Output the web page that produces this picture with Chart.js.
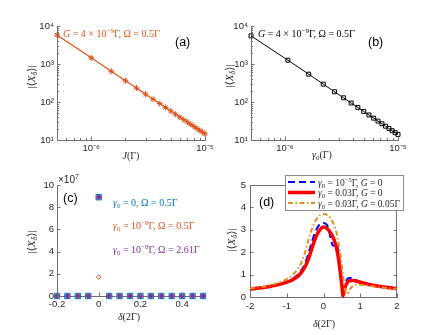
<!DOCTYPE html>
<html>
<head>
<meta charset="utf-8">
<script src="https://cdn.jsdelivr.net/npm/chart.js@4.4.1/dist/chart.umd.min.js"></script>
<style>
  html, body { margin: 0; padding: 0; background: #fff; }
  #wrap { position: relative; width: 440px; height: 335px; }
  #wrap canvas { position: absolute; left: 0; top: 0; }
</style>
</head>
<body>
<div id="wrap">
  <canvas id="chartA" width="440" height="335"></canvas>
  <canvas id="chartB" width="440" height="335"></canvas>
  <canvas id="chartC" width="440" height="335"></canvas>
  <canvas id="chartD" width="440" height="335"></canvas>
</div>
<script>
// (a) |<X_delta>| vs J, G = 4e-9, Omega = 0.5
const jA = [0.5e-6, 1e-6, 1.5e-6, 2e-6, 2.5e-6, 3e-6, 3.5e-6, 4e-6, 4.5e-6, 5e-6,
            5.5e-6, 6e-6, 6.5e-6, 7e-6, 7.5e-6, 8e-6, 8.5e-6, 9e-6, 9.5e-6, 1e-5];
const xdA = [5800, 1450, 645, 363, 232, 161, 118, 91, 72, 58,
             48, 40, 34.3, 29.6, 25.8, 22.7, 20.1, 17.9, 16.1, 14.5];

// (b) |<X_delta>| vs gamma0
const gB = [0.5e-6, 1.06e-6, 1.62e-6, 2.18e-6, 2.74e-6, 3.29e-6, 3.85e-6, 4.41e-6, 4.97e-6,
            5.53e-6, 6.09e-6, 6.65e-6, 7.21e-6, 7.76e-6, 8.32e-6, 8.88e-6, 9.44e-6, 1e-5];
const xdB = [5500, 1260, 540, 295, 186, 129, 94, 72, 56.5,
             45.6, 37.6, 31.5, 26.8, 23.1, 20.1, 17.6, 15.6, 14.0];

// (c) |<X_delta>| vs delta, three parameter sets
const deltaC = [-0.2, -0.15, -0.1, -0.05, 0, 0.05, 0.1, 0.15, 0.2, 0.25, 0.3, 0.35, 0.4, 0.45, 0.5];
const xdC1 = [0, 0, 0, 0, 8.9e7, 0, 0, 0, 0, 0, 0, 0, 0, 0, 0];
const xdC2 = [0, 0, 0, 0, 1.7e7, 0, 0, 0, 0, 0, 0, 0, 0, 0, 0];
const xdC3 = [0, 0, 0, 0, 8.9e7, 0, 0, 0, 0, 0, 0, 0, 0, 0, 0];

// (d) |<X_delta>| vs delta, three curves
const deltaD = [-2, -1.75, -1.5, -1.25, -1, -0.85, -0.7, -0.6, -0.5, -0.4, -0.3, -0.2, -0.1, 0,
                0.1, 0.2, 0.25, 0.3, 0.35, 0.4, 0.45, 0.5, 0.53, 0.56, 0.6, 0.65, 0.7, 0.8, 0.9,
                1, 1.25, 1.5, 1.75, 2];
const xdBlue = [0.36, 0.40, 0.46, 0.55, 0.68, 0.80, 1.0, 1.2, 1.5, 2.0, 2.55, 3.0, 3.25, 3.3,
                3.2, 2.6, 2.3, 2.3, 2.4, 2.1, 1.4, 0.6, 0.05, 0.35, 0.65, 0.8, 0.85, 0.83, 0.75,
                0.68, 0.56, 0.48, 0.42, 0.37];
const xdRed = [0.36, 0.40, 0.46, 0.54, 0.66, 0.76, 0.92, 1.1, 1.35, 1.75, 2.25, 2.7, 3.0, 3.12,
               3.05, 2.85, 2.7, 2.5, 2.2, 1.8, 1.2, 0.5, 0.05, 0.25, 0.5, 0.65, 0.72, 0.74, 0.7,
               0.66, 0.56, 0.48, 0.42, 0.37];
const xdOrange = [0.38, 0.43, 0.5, 0.62, 0.8, 0.98, 1.25, 1.55, 2.0, 2.6, 3.1, 3.45, 3.65, 3.7,
                  3.67, 3.5, 3.35, 3.15, 2.9, 2.5, 2.0, 1.4, 1.0, 0.6, 0.25, 0.15, 0.3, 0.5, 0.55,
                  0.55, 0.5, 0.45, 0.4, 0.36];

// tick values
const cTicksX = [-0.2, 0, 0.2, 0.4];
const cTicksY = [0, 2e7, 4e7, 6e7, 8e7, 10e7];
const dTicksX = [-2, -1, 0, 1, 2];
const dTicksY = [0, 1, 2, 3, 4, 5];

const SERIF = '"Liberation Serif", "DejaVu Serif", serif';
const SANS = '"Liberation Sans", Arial, sans-serif';
const AXIS = '#707070';
const TXT = '#262626';
const YW = 40, XH = 22; // box sizes given to the axes

const SUP = { '-': '⁻', '0': '⁰', '1': '¹', '2': '²', '3': '³', '4': '⁴', '5': '⁵', '6': '⁶', '7': '⁷', '8': '⁸', '9': '⁹' };
function pow10Label(v) {
  const e = Math.log10(v);
  if (Math.abs(e - Math.round(e)) > 1e-6) return '';
  return '10' + String(Math.round(e)).split('').map(c => SUP[c]).join('');
}

// minor ticks 1..9 x 10^n between lo and hi
function logTicks(lo, hi) {
  const out = [];
  for (let e = Math.floor(Math.log10(lo)); e <= Math.ceil(Math.log10(hi)); e++) {
    for (let m = 1; m <= 9; m++) {
      const v = m * Math.pow(10, e);
      if (v >= lo * 0.999 && v <= hi * 1.001) out.push(v);
    }
  }
  return out;
}

function axis(type, pos, min, max, tickVals, fmt, pad) {
  return {
    type, position: pos, min, max,
    afterFit(s) { if (s.isHorizontal()) s.height = XH; else s.width = YW; },
    afterBuildTicks(s) { s.ticks = tickVals.map(v => ({ value: v })); },
    ticks: {
      callback: fmt, autoSkip: false, maxRotation: 0, minRotation: 0, padding: pad,
      color: TXT, font: { family: SANS, size: 9.5 }
    },
    grid: { drawOnChartArea: false, drawTicks: false },
    border: { color: AXIS, width: 1 }
  };
}

// text with italic / sub / sup parts
function rich(ctx, t) {
  const size = t.size || 10, fam = t.family || SERIF;
  const fontFor = f => (f.includes('i') ? 'italic ' : '') +
    ((f.includes('b') || f.includes('p')) ? size * 0.7 : size) + 'px ' + fam;
  let w = 0;
  const widths = t.parts.map(([s, f = '']) => { ctx.font = fontFor(f); const m = ctx.measureText(s).width; w += m; return m; });
  ctx.save();
  ctx.translate(t.x, t.y);
  if (t.rot) ctx.rotate(t.rot);
  ctx.fillStyle = t.color || TXT;
  ctx.textAlign = 'left';
  ctx.textBaseline = 'alphabetic';
  let x = t.align === 'center' ? -w / 2 : 0;
  t.parts.forEach(([s, f = ''], i) => {
    ctx.font = fontFor(f);
    const dy = f.includes('p') ? -size * 0.42 : f.includes('b') ? size * 0.22 : 0;
    ctx.fillText(s, x, dy);
    x += widths[i];
  });
  ctx.restore();
}

function makeDeco(spec) {
  return {
    id: 'deco',
    afterDraw(chart) {
      const ctx = chart.ctx, a = chart.chartArea;
      ctx.save();
      ctx.strokeStyle = AXIS;
      ctx.lineWidth = 1;
      ctx.beginPath();
      if (spec.box) {
        ctx.moveTo(a.left, a.top + 0.5); ctx.lineTo(a.right, a.top + 0.5);
        ctx.moveTo(a.right - 0.5, a.top); ctx.lineTo(a.right - 0.5, a.bottom);
      }
      // inward tick marks
      const sx = chart.scales.x, sy = chart.scales.y;
      sx.ticks.forEach(t => {
        const px = Math.round(sx.getPixelForValue(t.value)) + 0.5;
        const len = t.label === '' ? 2 : 3.5;
        ctx.moveTo(px, a.bottom); ctx.lineTo(px, a.bottom - len);
        if (spec.box) { ctx.moveTo(px, a.top); ctx.lineTo(px, a.top + len); }
      });
      sy.ticks.forEach(t => {
        const py = Math.round(sy.getPixelForValue(t.value)) + 0.5;
        const len = t.label === '' ? 2 : 3.5;
        ctx.moveTo(a.left, py); ctx.lineTo(a.left + len, py);
        if (spec.box) { ctx.moveTo(a.right, py); ctx.lineTo(a.right - len, py); }
      });
      ctx.stroke();

      if (spec.legend) {
        const L = spec.legend;
        ctx.fillStyle = '#fff';
        ctx.fillRect(L.x, L.y, L.w, L.h);
        ctx.strokeStyle = '#8a8a8a';
        ctx.strokeRect(L.x + 0.5, L.y + 0.5, L.w, L.h);
        L.rows.forEach(r => {
          ctx.save();
          ctx.strokeStyle = r.color;
          ctx.lineWidth = r.width;
          ctx.setLineDash(r.dash);
          ctx.beginPath();
          ctx.moveTo(L.x + 3, r.y); ctx.lineTo(L.x + 30, r.y);
          ctx.stroke();
          ctx.restore();
          rich(ctx, { parts: r.parts, x: L.x + 33, y: r.y + 3.5, size: 9.5 });
        });
      }
      (spec.texts || []).forEach(t => rich(ctx, t));
      ctx.restore();
    }
  };
}

function panel(id, frame, scales, datasets, deco) {
  return new Chart(document.getElementById(id), {
    type: 'scatter',
    data: { datasets },
    options: {
      responsive: false,
      animation: false,
      events: [],
      layout: { padding: { left: frame[0] - YW, top: frame[1], right: 440 - frame[2], bottom: 335 - frame[3] - XH } },
      scales,
      plugins: { legend: { display: false }, tooltip: { enabled: false } }
    },
    plugins: [makeDeco(deco)]
  });
}

const yTitle = [['|⟨'], ['X', 'i'], ['δ', 'ib'], ['⟩|']];

// (a)
panel('chartA', [57, 26, 205, 140], {
  x: axis('logarithmic', 'bottom', 5e-7, 1e-5, logTicks(5e-7, 1e-5), pow10Label, 3),
  y: axis('logarithmic', 'left', 10, 10000, logTicks(10, 10000), pow10Label, 3)
}, [{
  data: jA.map((x, i) => ({ x, y: xdA[i] })),
  showLine: true, clip: false,
  borderColor: '#D95319', borderWidth: 1.2,
  pointStyle: 'star', pointRadius: 3, pointBorderColor: '#D95319', pointBorderWidth: 1,
  pointBackgroundColor: '#D95319'
}], {
  texts: [
    { parts: [['G', 'i'], [' = 4 × 10'], ['−9', 'p'], ['Γ, Ω = 0.5Γ']], x: 63, y: 37, color: '#D95319' },
    { parts: [['(a)']], x: 175, y: 46, size: 12.5, family: SANS, color: '#000' },
    { parts: [['J', 'i'], ['(Γ)']], x: 131, y: 159, align: 'center' },
    { parts: yTitle, x: 35, y: 77, align: 'center', rot: -Math.PI / 2, size: 11 }
  ]
});

// (b)
panel('chartB', [251, 26, 398, 140], {
  x: axis('logarithmic', 'bottom', 5e-7, 1e-5, logTicks(5e-7, 1e-5), pow10Label, 3),
  y: axis('logarithmic', 'left', 10, 10000, logTicks(10, 10000), pow10Label, 3)
}, [{
  data: gB.map((x, i) => ({ x, y: xdB[i] })),
  showLine: true, clip: false,
  borderColor: '#000', borderWidth: 1,
  pointStyle: 'rect', pointRadius: 2.8, pointBorderColor: '#000', pointBorderWidth: 1,
  pointBackgroundColor: 'rgba(255,255,255,0)'
}], {
  texts: [
    { parts: [['G', 'i'], [' = 4 × 10'], ['−9', 'p'], ['Γ, Ω = 0.5Γ']], x: 258, y: 37, color: '#000' },
    { parts: [['(b)']], x: 368, y: 46, size: 12.5, family: SANS, color: '#000' },
    { parts: [['γ', 'i'], ['0', 'b'], ['(Γ)']], x: 322, y: 158, align: 'center' },
    { parts: yTitle, x: 233, y: 76, align: 'center', rot: -Math.PI / 2, size: 11 }
  ]
});

// (c)
panel('chartC', [57, 185, 203, 296], {
  x: axis('linear', 'bottom', -0.2, 0.5, cTicksX, v => String(v), 3),
  y: axis('linear', 'left', 0, 10e7, cTicksY, v => String(Math.round(v / 1e7)), 3)
}, [{
  data: deltaC.map((x, i) => ({ x, y: xdC1[i] })),
  order: 2, clip: false,
  pointStyle: 'rect', pointRadius: 3.8, pointBorderColor: '#0072BD', pointBorderWidth: 1,
  pointBackgroundColor: '#9DCBEE'
}, {
  data: deltaC.map((x, i) => ({ x, y: xdC2[i] })),
  order: 3, clip: false,
  pointStyle: 'rectRot', pointRadius: 2.3, pointBorderColor: '#D95319', pointBorderWidth: 1,
  pointBackgroundColor: 'rgba(255,255,255,0)'
}, {
  data: deltaC.map((x, i) => ({ x, y: xdC3[i] })),
  order: 1, clip: false,
  pointStyle: 'star', pointRadius: 2.2, pointBorderColor: '#8E2A8E', pointBorderWidth: 1.5,
  pointBackgroundColor: '#8E2A8E'
}], {
  texts: [
    { parts: [['×10'], ['7', 'p']], x: 58, y: 183, size: 10, family: SANS },
    { parts: [['(c)']], x: 63, y: 202, size: 12.5, family: SANS, color: '#000' },
    { parts: [['γ', 'i'], ['0', 'b'], [' = 0, Ω = 0.5Γ']], x: 113, y: 206, color: '#0072BD' },
    { parts: [['γ', 'i'], ['0', 'b'], [' = 10'], ['−8', 'p'], ['Γ, Ω = 0.5Γ']], x: 113, y: 229, color: '#D95319' },
    { parts: [['γ', 'i'], ['0', 'b'], [' = 10'], ['−8', 'p'], ['Γ, Ω = 2.61Γ']], x: 113, y: 253, color: '#7E2F8E' },
    { parts: [['δ', 'i'], ['(2Γ)']], x: 129, y: 320, align: 'center' },
    { parts: yTitle, x: 35, y: 242, align: 'center', rot: -Math.PI / 2, size: 11 }
  ]
});

// (d)
const lineD = (vals, color, width, dash, order) => ({
  data: deltaD.map((x, i) => ({ x, y: vals[i] })),
  showLine: true, clip: false, order,
  borderColor: color, borderWidth: width, borderDash: dash,
  pointRadius: 0, cubicInterpolationMode: 'monotone'
});
const dashBlue = [7, 4], dashOrange = [5, 2.5, 1.5, 2.5];
panel('chartD', [250, 185, 397, 297], {
  x: axis('linear', 'bottom', -2, 2, dTicksX, v => String(v), 4),
  y: axis('linear', 'left', 0, 5, dTicksY, v => String(v), 4)
}, [
  lineD(xdBlue, '#0000FF', 2, dashBlue, 3),
  lineD(xdRed, '#FF0000', 3.5, [], 2),
  lineD(xdOrange, '#E08E1E', 2, dashOrange, 1)
], {
  box: true,
  legend: {
    x: 285, y: 175, w: 118, h: 35,
    rows: [
      { y: 182, color: '#0000FF', width: 2, dash: dashBlue,
        parts: [['γ', 'i'], ['0', 'b'], [' = 10'], ['−5', 'p'], ['Γ, '], ['G', 'i'], [' = 0']] },
      { y: 192.5, color: '#FF0000', width: 3.5, dash: [],
        parts: [['γ', 'i'], ['0', 'b'], [' = 0.03Γ, '], ['G', 'i'], [' = 0']] },
      { y: 203, color: '#E08E1E', width: 2, dash: dashOrange,
        parts: [['γ', 'i'], ['0', 'b'], [' = 0.03Γ, '], ['G', 'i'], [' = 0.05Γ']] }
    ]
  },
  texts: [
    { parts: [['(d)']], x: 259, y: 206, size: 12.5, family: SANS, color: '#000' },
    { parts: [['δ', 'i'], ['(2Γ)']], x: 324, y: 327, align: 'center' },
    { parts: yTitle, x: 235, y: 240, align: 'center', rot: -Math.PI / 2, size: 11 }
  ]
});
</script>
</body>
</html>
